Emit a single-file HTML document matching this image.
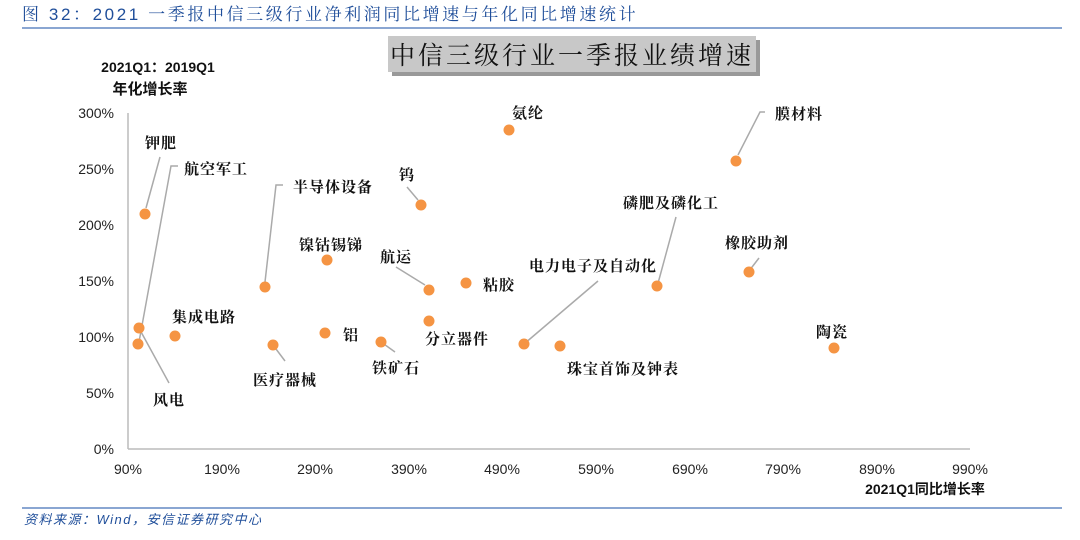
<!DOCTYPE html>
<html><head><meta charset="utf-8"><style>
html,body{margin:0;padding:0;background:#fff;}
body{width:1080px;height:535px;overflow:hidden;}
</style></head><body>
<svg width="1080" height="535" xmlns="http://www.w3.org/2000/svg" font-family="'Liberation Sans','Noto Sans CJK SC',sans-serif">
<text x="22" y="20" font-size="17" fill="#1f4e9a" letter-spacing="2.6" font-family="'Liberation Sans','Noto Serif CJK SC',serif">图 32：2021 一季报中信三级行业净利润同比增速与年化同比增速统计</text>
<line x1="22" y1="28" x2="1062" y2="28" stroke="#8aa6d2" stroke-width="2"/>
<rect x="392" y="40" width="368" height="36" fill="#999"/>
<rect x="388" y="36" width="368" height="36" fill="#c8c8c8"/>
<text x="572" y="64" font-size="25" text-anchor="middle" fill="#111" font-family="'Noto Serif CJK SC',serif" letter-spacing="3">中信三级行业一季报业绩增速</text>
<text x="158" y="72" font-size="14" font-weight="bold" text-anchor="middle" fill="#111">2021Q1：2019Q1</text>
<text x="150" y="94" font-size="15" font-weight="bold" text-anchor="middle" fill="#111">年化增长率</text>
<line x1="128" y1="113" x2="128" y2="449" stroke="#bbb" stroke-width="1.5"/>
<line x1="128" y1="449" x2="970" y2="449" stroke="#bbb" stroke-width="1.5"/>
<g font-size="14" fill="#222" text-anchor="end">
<text x="114" y="118">300%</text><text x="114" y="174">250%</text><text x="114" y="230">200%</text><text x="114" y="286">150%</text><text x="114" y="342">100%</text><text x="114" y="398">50%</text><text x="114" y="454">0%</text>
</g>
<g font-size="14" fill="#222" text-anchor="middle">
<text x="128" y="474">90%</text><text x="222" y="474">190%</text><text x="315" y="474">290%</text><text x="409" y="474">390%</text><text x="502" y="474">490%</text><text x="596" y="474">590%</text><text x="690" y="474">690%</text><text x="783" y="474">790%</text><text x="877" y="474">890%</text><text x="970" y="474">990%</text>
</g>
<text x="925" y="494" font-size="14" font-weight="bold" text-anchor="middle" fill="#111">2021Q1同比增长率</text>
<g stroke="#aaa" stroke-width="1.5" fill="none">
<polyline points="146,208 160,157"/>
<polyline points="139,342 171,166 178,166"/>
<polyline points="140,330 169,383"/>
<polyline points="265,282 276,185 283,185"/>
<polyline points="407,187 418,200"/>
<polyline points="396,267 425,285"/>
<polyline points="273,345 285,361"/>
<polyline points="381,342 395,352"/>
<polyline points="738,155 760,112 765,112"/>
<polyline points="676,217 657,287"/>
<polyline points="759,258 749,271"/>
<polyline points="598,281 524,344"/>
</g>
<g fill="#f59443">
<circle cx="145" cy="214" r="5.5"/><circle cx="139" cy="328" r="5.5"/><circle cx="138" cy="344" r="5.5"/><circle cx="175" cy="336" r="5.5"/><circle cx="265" cy="287" r="5.5"/><circle cx="273" cy="345" r="5.5"/><circle cx="327" cy="260" r="5.5"/><circle cx="325" cy="333" r="5.5"/><circle cx="381" cy="342" r="5.5"/><circle cx="421" cy="205" r="5.5"/><circle cx="429" cy="290" r="5.5"/><circle cx="429" cy="321" r="5.5"/><circle cx="466" cy="283" r="5.5"/><circle cx="509" cy="130" r="5.5"/><circle cx="524" cy="344" r="5.5"/><circle cx="560" cy="346" r="5.5"/><circle cx="657" cy="286" r="5.5"/><circle cx="736" cy="161" r="5.5"/><circle cx="749" cy="272" r="5.5"/><circle cx="834" cy="348" r="5.5"/>
</g>
<g font-size="15" font-weight="bold" fill="#111" font-family="'Noto Serif CJK SC',serif" letter-spacing="1">
<text x="145" y="148">钾肥</text><text x="184" y="174">航空军工</text><text x="153" y="405">风电</text><text x="172" y="322">集成电路</text><text x="293" y="192">半导体设备</text><text x="399" y="180">钨</text><text x="299" y="250">镍钴锡锑</text><text x="380" y="262">航运</text><text x="343" y="340">铝</text><text x="253" y="385">医疗器械</text><text x="372" y="373">铁矿石</text><text x="425" y="344">分立器件</text><text x="512" y="118">氨纶</text><text x="775" y="119">膜材料</text><text x="623" y="208">磷肥及磷化工</text><text x="725" y="248">橡胶助剂</text><text x="529" y="271">电力电子及自动化</text><text x="483" y="290">粘胶</text><text x="567" y="374">珠宝首饰及钟表</text><text x="816" y="337">陶瓷</text>
</g>
<line x1="22" y1="508" x2="1062" y2="508" stroke="#8aa6d2" stroke-width="2"/>
<text x="24" y="524" font-size="13" font-style="italic" fill="#1f4e9a" letter-spacing="1.5">资料来源：Wind，安信证券研究中心</text>
</svg>
</body></html>
